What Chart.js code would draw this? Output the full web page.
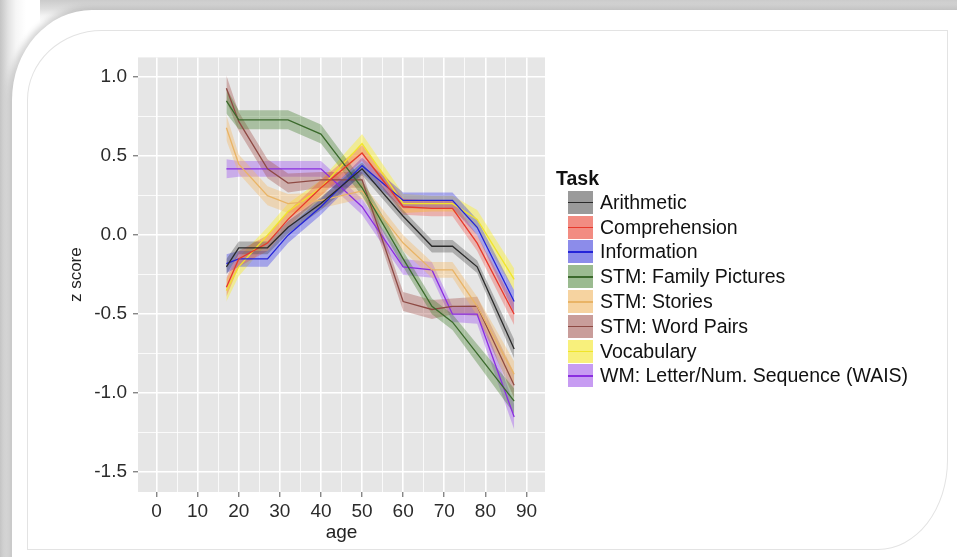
<!DOCTYPE html>
<html>
<head>
<meta charset="utf-8">
<script src="https://cdn.jsdelivr.net/npm/chart.js@4/dist/chart.umd.min.js"></script>
<style>
html,body{margin:0;padding:0;width:957px;height:557px;overflow:hidden;background:#fff;font-family:"Liberation Sans",Arial,sans-serif;}
#shadeTop{position:absolute;left:0;top:0;width:957px;height:24px;background:linear-gradient(180deg,#cbcbcb 0px,#dedede 9px,#f4f4f4 16px,#fff 24px);}
#shadeLeft{position:absolute;left:0;top:0;width:40px;height:557px;background:linear-gradient(90deg,#c4c4c4 0px,#e2e2e2 8px,#f6f6f6 16px,#fff 26px);}
#card{position:absolute;left:12px;top:10px;width:970px;height:570px;background:#fff;border-top-left-radius:80px 90px;box-shadow:-3px -2px 6px rgba(0,0,0,0.18);}
#frame{position:absolute;left:27px;top:30px;width:919px;height:518px;border:1px solid #e3e3e3;border-top-left-radius:75px 70px;border-bottom-right-radius:70px 90px;}
#wrap{position:absolute;left:60px;top:40px;width:500px;height:512px;}
#legend{position:absolute;left:556px;top:166px;color:#111;font-size:19.5px;}
#legend .title{font-weight:bold;height:24px;line-height:24px;}
#legend .row{height:24.8px;display:flex;align-items:center;}
#legend .key{width:25px;height:23px;margin-left:12px;margin-right:7px;position:relative;}
#legend .key span{position:absolute;left:0;right:0;top:11px;height:1.5px;}
</style>
</head>
<body>
<div id="shadeTop"></div>
<div id="shadeLeft"></div>
<div id="card"></div>
<div id="frame"></div>
<div id="wrap"><canvas id="c"></canvas></div>
<div id="legend"></div>
<script>
// ---- data ----
const ages = [17, 20, 27, 32, 40, 50, 60, 67, 72, 78, 87];
const taskNames = ['Arithmetic','Comprehension','Information','STM: Family Pictures','STM: Stories','STM: Word Pairs','Vocabulary','WM: Letter/Num. Sequence (WAIS)'];
const arithmetic     = [-0.20, -0.08, -0.08, 0.05, 0.20, 0.42, 0.12, -0.07, -0.07, -0.20, -0.72];
const comprehension  = [-0.33, -0.15, -0.05, 0.10, 0.30, 0.52, 0.18, 0.17, 0.17, -0.05, -0.50];
const information    = [-0.18, -0.15, -0.15, 0.00, 0.18, 0.44, 0.22, 0.22, 0.22, 0.05, -0.42];
const familyPictures = [0.85, 0.73, 0.73, 0.73, 0.64, 0.30, -0.15, -0.45, -0.55, -0.75, -1.05];
const stories        = [0.68, 0.45, 0.25, 0.20, 0.22, 0.28, -0.05, -0.22, -0.22, -0.45, -0.88];
const wordPairs      = [0.93, 0.72, 0.42, 0.33, 0.35, 0.35, -0.42, -0.47, -0.45, -0.45, -0.95];
const vocabulary     = [-0.35, -0.20, 0.00, 0.15, 0.30, 0.58, 0.20, 0.20, 0.20, 0.10, -0.28];
const wmLetterNum    = [0.42, 0.42, 0.42, 0.42, 0.42, 0.18, -0.20, -0.22, -0.50, -0.50, -1.15];
// half-widths of the confidence ribbons
const arithmeticSE     = [0.05, 0.04, 0.04, 0.04, 0.04, 0.04, 0.04, 0.04, 0.04, 0.04, 0.06];
const comprehensionSE  = [0.06, 0.05, 0.05, 0.05, 0.05, 0.05, 0.05, 0.05, 0.05, 0.05, 0.07];
const informationSE    = [0.06, 0.05, 0.05, 0.05, 0.05, 0.05, 0.05, 0.05, 0.05, 0.05, 0.07];
const familyPicturesSE = [0.08, 0.06, 0.06, 0.06, 0.06, 0.05, 0.05, 0.05, 0.05, 0.06, 0.08];
const storiesSE        = [0.08, 0.06, 0.06, 0.06, 0.05, 0.05, 0.05, 0.05, 0.05, 0.06, 0.08];
const wordPairsSE      = [0.08, 0.06, 0.06, 0.06, 0.05, 0.05, 0.06, 0.06, 0.05, 0.06, 0.08];
const vocabularySE     = [0.07, 0.06, 0.05, 0.05, 0.05, 0.06, 0.06, 0.05, 0.05, 0.06, 0.07];
const wmLetterNumSE    = [0.06, 0.05, 0.05, 0.05, 0.05, 0.05, 0.05, 0.05, 0.05, 0.06, 0.08];
const xTicks = [0, 10, 20, 30, 40, 50, 60, 70, 80, 90];
const xMinorTicks = [5, 15, 25, 35, 45, 55, 65, 75, 85];
const yTicks = [-1.5, -1.0, -0.5, 0.0, 0.5, 1.0];
const yMinorTicks = [-1.25, -0.75, -0.25, 0.25, 0.75];

// ---- styles ----
const seriesValues = [arithmetic, comprehension, information, familyPictures, stories, wordPairs, vocabulary, wmLetterNum];
const seriesSE = [arithmeticSE, comprehensionSE, informationSE, familyPicturesSE, storiesSE, wordPairsSE, vocabularySE, wmLetterNumSE];
const lineColors = ['#2a2a2a','#e8392c','#2424d8','#3b6a2c','#e9b466','#8e4a44','#f0e52a','#8a2ee0'];
const fillColors = ['rgba(70,70,70,0.35)','rgba(240,70,60,0.33)','rgba(40,40,235,0.35)','rgba(70,130,50,0.38)','rgba(245,185,100,0.38)','rgba(165,85,80,0.38)','rgba(250,240,50,0.45)','rgba(155,80,240,0.38)'];
const keyColors = ['#9a9a9a','#f28c82','#8c8cea','#9bbb90','#f6d3a0','#c99d9a','#f8f07c','#c79cf2'];

const datasets = [];
seriesValues.forEach((vals, i) => {
  const se = seriesSE[i];
  datasets.push({label: taskNames[i] + ' upper', data: ages.map((a, k) => ({x: a, y: vals[k] + se[k]})),
    borderWidth: 0, pointRadius: 0, backgroundColor: fillColors[i], fill: '+1', tension: 0});
  datasets.push({label: taskNames[i] + ' lower', data: ages.map((a, k) => ({x: a, y: vals[k] - se[k]})),
    borderWidth: 0, pointRadius: 0, fill: false, tension: 0});
  datasets.push({label: taskNames[i], data: ages.map((a, k) => ({x: a, y: vals[k]})),
    borderColor: lineColors[i], borderWidth: 1.3, pointRadius: 0, fill: false, tension: 0});
});

const panelBg = {
  id: 'panelBg',
  beforeDraw(chart) {
    const {ctx, chartArea: a} = chart;
    ctx.save();
    ctx.fillStyle = '#e6e6e6';
    ctx.fillRect(a.left, a.top, a.right - a.left, a.bottom - a.top);
    ctx.restore();
  }
};

const tickFont = {family: '"Liberation Sans", Arial, sans-serif', size: 19};
const isMajor = (v, list) => list.some(t => Math.abs(t - v) < 1e-9);

new Chart(document.getElementById('c'), {
  type: 'line',
  data: {datasets},
  plugins: [panelBg],
  options: {
    responsive: true, maintainAspectRatio: false, animation: false,
    layout: {padding: {top: 15, right: 15, left: 0, bottom: 0}},
    plugins: {legend: {display: false}, tooltip: {enabled: false}, filler: {drawTime: 'beforeDatasetsDraw'}},
    scales: {
      x: {
        type: 'linear', min: -4.5, max: 94.5,
        afterBuildTicks(s) { s.ticks = xTicks.concat(xMinorTicks).sort((a,b)=>a-b).map(v => ({value: v})); },
        afterFit(s) { s.height = 60; },
        border: {display: false},
        grid: {
          color: '#ffffff',
          lineWidth: c => isMajor(c.tick.value, xTicks) ? 1.6 : 0.8,
          tickColor: c => isMajor(c.tick.value, xTicks) ? '#555' : 'rgba(0,0,0,0)',
          tickLength: 5, tickWidth: 1
        },
        ticks: {color: '#2b2b2b', font: tickFont, padding: 3, maxRotation: 0, autoSkip: false,
          callback: v => isMajor(v, xTicks) ? String(v) : ''},
        title: {display: true, text: 'age', color: '#222', font: {family: tickFont.family, size: 19}, padding: {top: 0, bottom: 8}}
      },
      y: {
        type: 'linear', min: -1.625, max: 1.125,
        afterBuildTicks(s) { s.ticks = yTicks.concat(yMinorTicks).sort((a,b)=>a-b).map(v => ({value: v})); },
        afterFit(s) { s.width = 78; },
        border: {display: false},
        grid: {
          color: '#ffffff',
          lineWidth: c => isMajor(c.tick.value, yTicks) ? 1.6 : 0.8,
          tickColor: c => isMajor(c.tick.value, yTicks) ? '#555' : 'rgba(0,0,0,0)',
          tickLength: 5, tickWidth: 1
        },
        ticks: {color: '#2b2b2b', font: tickFont, padding: 6, autoSkip: false,
          callback: v => isMajor(v, yTicks) ? v.toFixed(1) : ''},
        title: {display: true, text: 'z score', color: '#222', font: {family: tickFont.family, size: 17}, padding: {top: 6, bottom: 0}}
      }
    }
  }
});

// legend (HTML)
const lg = document.getElementById('legend');
const t = document.createElement('div'); t.className = 'title'; t.textContent = 'Task'; lg.appendChild(t);
taskNames.forEach((n, i) => {
  const r = document.createElement('div'); r.className = 'row';
  const k = document.createElement('div'); k.className = 'key'; k.style.background = keyColors[i];
  const ln = document.createElement('span'); ln.style.background = lineColors[i]; k.appendChild(ln);
  const tx = document.createElement('div'); tx.textContent = n;
  r.appendChild(k); r.appendChild(tx); lg.appendChild(r);
});
</script>
</body>
</html>
